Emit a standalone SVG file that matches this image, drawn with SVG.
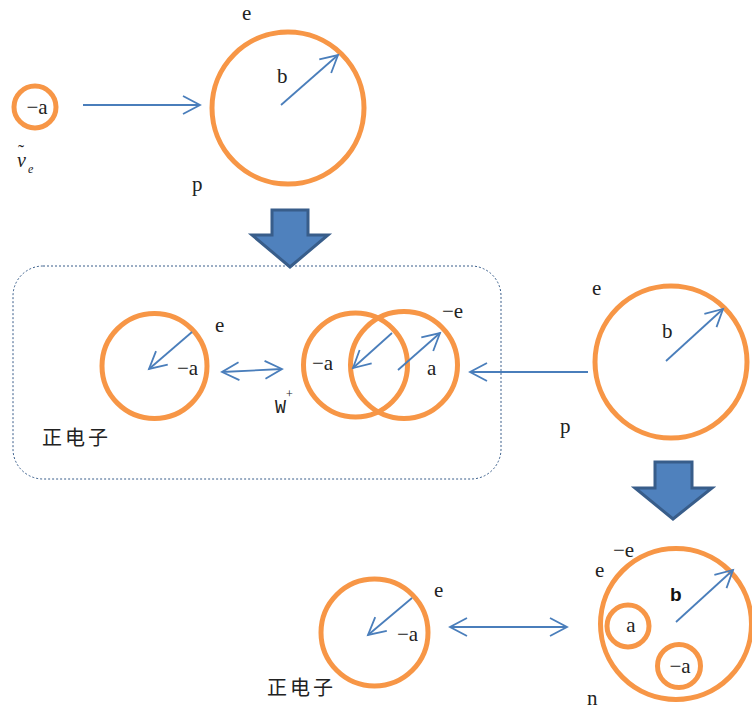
<svg xmlns="http://www.w3.org/2000/svg" width="752" height="711" viewBox="0 0 752 711">
<defs>
<style>
.ring{fill:none;stroke:#f79646;stroke-width:5}
.arr{fill:none;stroke:#4a7ebb;stroke-width:1.8}
.t{font-family:'Liberation Serif','Times New Roman',serif;font-size:21px;fill:#222}
.cjk{font-family:'Noto Sans CJK SC','Liberation Serif',serif;font-size:20px;fill:#222;letter-spacing:3px}
.fat{fill:#4f81bd;stroke:#385d8a;stroke-width:3;stroke-linejoin:miter}
</style>
<marker id="ah" viewBox="-20 -12 24 24" refX="0" refY="0" markerWidth="24" markerHeight="24" markerUnits="userSpaceOnUse" orient="auto-start-reverse">
<path d="M-17,-9 L0,0 L-17,9" fill="none" stroke="#4a7ebb" stroke-width="1.8"/>
</marker>
</defs>
<rect width="752" height="711" fill="#fff"/>

<g id="box">
<rect x="13" y="266" width="488" height="213" rx="30" ry="30" fill="none" stroke="#385d8a" stroke-width="1" stroke-dasharray="2,2"/>
<text class="cjk" x="42" y="445">正电子</text>
</g>

<g id="antineutrino">
<circle class="ring" cx="35" cy="107" r="21"/>
<text class="t" x="37" y="114" text-anchor="middle">−a</text>
<text class="t" x="17" y="167" style="font-style:italic;font-size:20px">ν<tspan x="18" y="158" style="font-style:normal;font-size:18px">˜</tspan><tspan x="28" y="173" style="font-size:12px">e</tspan></text>
</g>

<g id="proton-top">
<circle class="ring" cx="288" cy="108" r="76"/>
<text class="t" x="242" y="20">e</text>
<text class="t" x="277" y="83">b</text>
<text class="t" x="192" y="191">p</text>
</g>

<g id="positron-box">
<circle class="ring" cx="154.5" cy="366" r="52.5"/>
<text class="t" x="215" y="332">e</text>
<text class="t" x="177" y="375">−a</text>
</g>

<g id="wplus">
<circle class="ring" cx="355.5" cy="365" r="52"/>
<circle class="ring" cx="404" cy="365" r="53.5"/>
<text class="t" x="312" y="370">−a</text>
<text class="t" x="427" y="375">a</text>
<text class="t" x="442" y="318">−e</text>
<text x="275" y="413" style="font-family:'Liberation Mono',monospace;font-size:21px;fill:#222" textLength="11" lengthAdjust="spacingAndGlyphs">W</text>
<text x="286" y="398" style="font-family:'Liberation Serif',serif;font-size:12px;fill:#222">+</text>
</g>

<g id="proton-right">
<circle class="ring" cx="671" cy="362" r="76"/>
<text class="t" x="662" y="338">b</text>
<text class="t" x="592" y="295">e</text>
<text class="t" x="560" y="433">p</text>
</g>

<g id="positron-bottom">
<circle class="ring" cx="374.5" cy="632.5" r="53.5"/>
<text class="t" x="434" y="597">e</text>
<text class="t" x="397" y="641">−a</text>
<text class="cjk" x="267" y="695">正电子</text>
</g>

<g id="neutron">
<circle class="ring" cx="676" cy="624" r="75.5"/>
<circle class="ring" cx="628" cy="626" r="21"/>
<circle class="ring" cx="679" cy="666" r="21.5"/>
<text x="670" y="601" style="font-family:'Liberation Sans',Arial,sans-serif;font-weight:bold;font-size:19px;fill:#111">b</text>
<text class="t" x="613" y="557">−e</text>
<text class="t" x="595" y="577">e</text>
<text class="t" x="631" y="632" text-anchor="middle">a</text>
<text class="t" x="680" y="673" text-anchor="middle">−a</text>
<text class="t" x="587" y="705">n</text>
</g>

<g id="big-arrows">
<polygon class="fat" points="272,210 308,210 308,235 328,235 290,267 252,235 272,235"/>
<polygon class="fat" points="655,462 692,462 692,488 712,488 673,519 635,488 655,488"/>
</g>

<g id="connectors">
<line class="arr" x1="83" y1="105" x2="200" y2="105" marker-end="url(#ah)"/>
<line class="arr" x1="281" y1="105" x2="338" y2="55" marker-end="url(#ah)"/>
<line class="arr" x1="192" y1="332" x2="149" y2="369" marker-end="url(#ah)"/>
<line class="arr" x1="222" y1="372" x2="282" y2="369" marker-start="url(#ah)" marker-end="url(#ah)"/>
<line class="arr" x1="392" y1="333" x2="353" y2="368" marker-end="url(#ah)"/>
<line class="arr" x1="398" y1="370" x2="440" y2="333" marker-end="url(#ah)"/>
<line class="arr" x1="588" y1="372" x2="470" y2="372" marker-end="url(#ah)"/>
<line class="arr" x1="666" y1="361" x2="723" y2="309" marker-end="url(#ah)"/>
<line class="arr" x1="412" y1="598" x2="368" y2="635" marker-end="url(#ah)"/>
<line class="arr" x1="450" y1="627" x2="567" y2="627" marker-start="url(#ah)" marker-end="url(#ah)"/>
<line class="arr" x1="676" y1="622" x2="733" y2="570" marker-end="url(#ah)"/>
</g>
</svg>
